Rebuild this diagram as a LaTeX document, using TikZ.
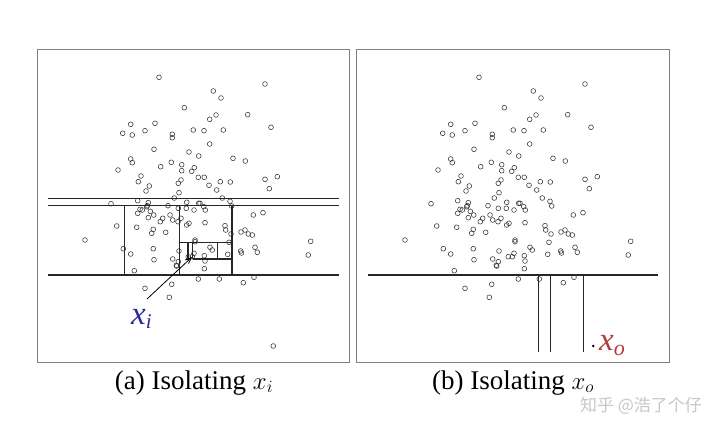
\documentclass[tikz,border=0pt]{standalone}
\usepackage{fontspec}
\setmainfont{Liberation Serif}
\newfontfamily\cjk{Noto Sans CJK SC}
\usetikzlibrary{arrows.meta}
\definecolor{xiblue}{RGB}{40,40,150}
\definecolor{xored}{RGB}{180,60,60}
\def\ptlist{479/77.3, 585/84, 533.3/91, 541/98, 504.3/107.7, 567.7/114.7, 536/115, 529.7/119.3,
450.7/124.3, 475/123.3, 591/127.3, 442.7/133.3, 452.3/135, 465/130.7, 492.3/134.3, 492.3/137.7,
513.3/130, 524/130.7, 543.3/130, 529.7/144, 474/149.3, 509/152, 518.7/156, 553/158.3, 565.3/161,
450.7/159, 452.3/162.7, 491.3/162.3, 501.7/164.7, 480.7/166.7, 514.3/167.7, 501.7/170.7, 511.7/171.3,
438/170, 461/176, 458.3/181.7, 518.3/177.3, 524.3/177.3, 585/179.3, 597.3/176.7, 501/180, 498.3/183.3,
540.3/181.7, 550.3/182, 529/185.3, 469.3/186, 466/191, 589.3/188.7, 536.7/190, 499/192.7, 494.3/198,
542.3/198, 550/201.3, 431/203.7, 457.7/200.7, 468.3/202.7, 467.3/205.7, 488/205.7, 506.7/202.3,
518.7/203.3, 523.7/206.7, 551.7/206, 498.3/208.3, 506.3/208.3, 514/210, 525.3/210, 457.7/213.3,
462.3/210, 470.3/211.3, 473.7/215, 468.3/217.7, 490/215, 492.7/220, 501/218.3, 480.3/221.7,
482.7/218.3, 498/221.7, 506.7/225, 509/223.3, 525/222.7, 573.3/215, 583/212.7, 436.7/226, 456.7/227.3,
473.3/229.3, 471.7/233.3, 485.7/232.3, 545/225.7, 545.7/230, 551/234, 561/232, 565/230, 568.3/234,
572.3/235, 405/240, 515/240, 549/242.3, 630.7/241.3, 443.3/248.7, 450.7/254, 473.3/248.7, 474/259.7,
499/251, 508.3/256.7, 512.3/256.7, 514/253.3, 530/247.3, 532.3/250, 524.3/255.7, 525/261, 547.7/254.3,
560.7/251, 575/247.3, 577.3/252.3, 628.3/255, 492.7/259, 498.3/261.7, 496.3/265.3, 524.3/268.7,
454.3/270.7, 518.3/279, 539.3/279, 563.3/282.7, 574/277.3, 465/288.3, 491.7/284.3, 489.3/297.3,
466.7/206.7, 460/209.3, 520/203.3, 496.7/266, 515/241.7, 561.5/253}
\begin{document}
\begin{tikzpicture}[x=1pt,y=-1pt,
  frame/.style={draw=black!50,line width=0.9pt},
  cut/.style={draw=black!85,line width=1.1pt},
  pt/.style={draw=black!80,line width=0.55pt},
  caption/.style={font=\fontsize{27}{31}\selectfont,anchor=base},
  bigx/.style={font=\fontsize{33}{33}\selectfont\itshape,anchor=base west,inner sep=0pt}]
\useasboundingbox (0,0) rectangle (720,433);
% frames
\draw[frame] (37,49) rectangle (349.5,362);
\draw[frame] (356.5,49) rectangle (669.5,362);
% points, panel (a)
\foreach \x/\y in \ptlist { \draw[pt] ({\x-320},\y) circle[radius=2.4pt]; }
\draw[pt] (273.3,346) circle[radius=2.4pt];
% points, panel (b)
\foreach \x/\y in \ptlist { \draw[pt] (\x,\y) circle[radius=2.4pt]; }
% cuts, panel (a)
\draw[cut] (48,198.7) -- (338.7,198.7);
\draw[cut] (48,205.3) -- (338.7,205.3);
\draw[cut] (48,275) -- (338.7,275);
\draw[cut] (124.7,205.3) -- (124.7,275);
\draw[cut] (179.5,205.3) -- (179.5,275);
\draw[cut] (232,205.3) -- (232,275);
\draw[cut] (179.5,242.5) -- (232,242.5);
\draw[cut] (188,242.5) -- (188,260);
\draw[cut] (192.5,242.5) -- (192.5,259);
\draw[cut] (217.3,242.5) -- (217.3,259);
\draw[cut] (192.5,259) -- (232,259);
% cuts, panel (b)
\draw[cut] (368,275) -- (658,275);
\draw[cut] (538.3,275) -- (538.3,351.7);
\draw[cut] (550.7,275) -- (550.7,351.7);
\draw[cut] (583.7,275) -- (583.7,351.7);
% labels
\node[bigx,text=xiblue] (xi) at (131,324) {x\raisebox{-4pt}{\fontsize{21}{21}\selectfont i}};
\coordinate (xitail) at (147,299);
\coordinate (xipt) at (192,257);
\draw[line width=0.8pt,-{Straight Barb[length=6pt,width=5pt]}] (xitail) -- (xipt);
\fill (593.3,346) circle[radius=1.4pt];
\node[bigx,text=xored] (xo) at (599,350) {x\raisebox{-5pt}{\fontsize{22}{22}\selectfont o}};
% captions
\node[caption] (capa) at (194,389) {(a) Isolating $x_i$};
\node[caption] (capb) at (513,389) {(b) Isolating $x_o$};
\node[text=black!22,font=\cjk\fontsize{17}{17}\selectfont] (wm) at (641,406) {知乎 @浩了个仔};
\end{tikzpicture}
\end{document}
